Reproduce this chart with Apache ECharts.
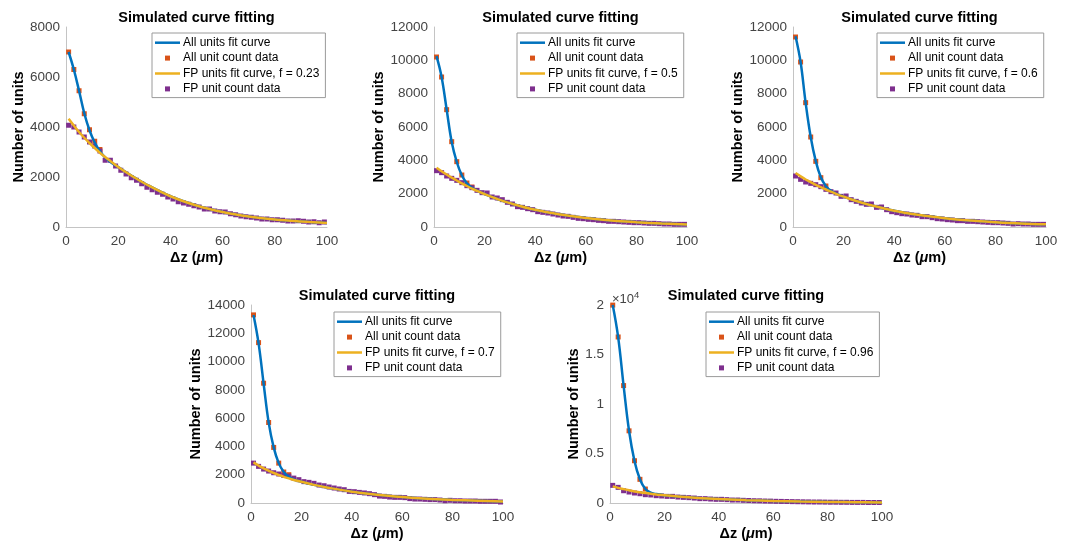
<!DOCTYPE html>
<html>
<head>
<meta charset="utf-8">
<script src="https://cdn.jsdelivr.net/npm/echarts@6/dist/echarts.min.js"></script>
<style>
  html, body { margin: 0; padding: 0; background: #fff; }
  #main { width: 1071px; height: 548px; }
</style>
</head>
<body>
<div id="main"></div>
<script>
// x positions of the count data (bin centres, um)
var countX = [1,3,5,7,9,11,13,15,17,19,21,23,25,27,29,31,33,35,37,39,41,43,45,47,49,
              51,53,55,57,59,61,63,65,67,69,71,73,75,77,79,81,83,85,87,89,91,93,95,97,99];
var fitX = [1,3,5,7,9,11,13,15,17,20,25,30,40,50,60,70,80,90,100];

// plot 1, f = 0.23
var allFit1 = [7000,6300,5450,4550,3870,3380,3030,2780,2600,2400,2060,1750,1230,860,600,420,300,220,160];
var allCount1 = [7000,6300,5450,4530,3890,3430,3100];
var fpFit1 = [4330,4060,3800,3570,3360,3160,2970,2800,2640,2400,2060,1750,1230,860,600,420,300,220,160];
var fpCount1 = [4070,4000,3800,3600,3400,3240,3040,2670,2670,2440,2270,2120,1970,1870,1730,1590,1490,1390,1310,1200,
                1120,1010,960,910,850,800,720,720,640,610,600,530,490,440,410,390,360,320,320,290,
                290,270,240,240,250,230,200,210,170,200];

// plot 2, f = 0.5
var allFit2 = [10250,9000,7050,5100,3900,3100,2620,2350,2180,1970,1680,1430,1030,750,540,390,290,210,150];
var allCount2 = [10200,9000,7040,5120,3920,3120,2640,2400];
var fpFit2 = [3560,3350,3150,2960,2790,2620,2460,2300,2170,1970,1680,1430,1030,750,540,390,290,210,150];
var fpCount2 = [3380,3260,3060,2920,2800,2660,2480,2360,2200,2060,2040,1800,1740,1640,1480,1380,1220,1180,1100,1040,
                920,880,840,780,720,660,640,580,520,500,460,440,400,380,340,340,320,300,280,260,
                260,240,220,220,200,180,180,160,160,160];

// plot 3, f = 0.6
var allFit3 = [11450,9900,7450,5400,3950,2980,2450,2170,2000,1820,1560,1340,980,720,530,390,290,210,160];
var allCount3 = [11400,9900,7460,5400,3940,2960,2460];
var fpFit3 = [3240,3040,2850,2690,2530,2390,2250,2120,1990,1820,1560,1340,980,720,530,390,290,210,160];
var fpCount3 = [3060,2860,2700,2620,2540,2420,2260,2120,2040,1840,1860,1640,1540,1440,1360,1380,1180,1200,1040,920,
                860,800,780,720,700,620,620,560,500,480,440,420,380,380,340,340,320,300,280,260,
                260,240,220,180,200,180,180,160,160,160];

// plot 4, f = 0.7
var allFit4 = [13300,11300,8450,5700,3930,2820,2200,1850,1660,1500,1280,1100,800,580,420,300,220,160,110];
var allCount4 = [13300,11340,8470,5690,3930,2820,2190,2000];
var fpFit4 = [2870,2650,2450,2280,2120,1980,1850,1740,1630,1500,1280,1100,800,580,420,300,220,160,110];
var fpCount4 = [2820,2590,2400,2260,2140,2050,1950,1900,1760,1650,1510,1460,1390,1270,1220,1130,1060,990,940,820,
                800,750,710,660,590,490,470,420,400,400,380,310,280,280,260,240,240,210,160,190,
                160,160,140,140,140,120,120,120,120,70];

// plot 5, f = 0.96
var allFit5 = [20000,16750,11850,7300,4250,2400,1420,1050,900,780,660,560,400,290,210,150,110,80,60];
var allCount5 = [19990,16770,11860,7290,4270,2390,1410];
var fpFit5 = [1680,1530,1400,1280,1170,1080,1000,930,870,780,660,560,400,290,210,150,110,80,60];
var fpCount5 = [1780,1580,1240,1110,1010,940,840,810,740,710,670,670,600,570,540,500,440,440,400,370,
                370,340,300,300,270,250,230,220,200,190,170,160,150,140,130,120,110,100,100,90,
                80,80,70,70,60,60,60,50,50,50];

var fValues = ['0.23', '0.5', '0.6', '0.7', '0.96'];
var yMax = [8000, 12000, 12000, 14000, 20000];
var yStep = [2000, 2000, 2000, 2000, 5000];

var allFit = [allFit1, allFit2, allFit3, allFit4, allFit5];
var allCount = [allCount1, allCount2, allCount3, allCount4, allCount5];
var fpFit = [fpFit1, fpFit2, fpFit3, fpFit4, fpFit5];
var fpCount = [fpCount1, fpCount2, fpCount3, fpCount4, fpCount5];

// panel placement (plot area in px)
var boxes = [
    {left: 66,  top: 27,  width: 261, height: 200, legendLeft: 152, legendTop: 33,  nameGap: 37},
    {left: 434, top: 27,  width: 253, height: 200, legendLeft: 517, legendTop: 33,  nameGap: 45},
    {left: 793, top: 27,  width: 253, height: 200, legendLeft: 877, legendTop: 33,  nameGap: 43},
    {left: 251, top: 305, width: 252, height: 198, legendLeft: 334, legendTop: 312, nameGap: 45},
    {left: 610, top: 305, width: 272, height: 198, legendLeft: 706, legendTop: 312, nameGap: 29}
];

var FONT = 'Liberation Sans, Arial, sans-serif';
var BLUE = '#0072BD', ORANGE = '#D95319', YELLOW = '#EDB120', PURPLE = '#7E2F8E';
var LINE_ICON = 'path://M0,0H25V2.5H0Z';
var DOT_ICON = 'path://M0,0H10V10H0Z';

function pairs(xs, ys) {
    var out = [];
    for (var i = 0; i < ys.length; i++) out.push([xs[i], ys[i]]);
    return out;
}

var myChart = echarts.init(document.getElementById('main'));

var option = {
    backgroundColor: '#fff',
    animation: false,
    textStyle: { fontFamily: FONT },
    title: [], grid: [], xAxis: [], yAxis: [], legend: [], series: []
};

boxes.forEach(function (b, i) {
    var fpName = 'FP units fit curve, f = ' + fValues[i];

    option.title.push({
        text: 'Simulated curve fitting',
        left: b.left + b.width / 2,
        top: b.top - 17,
        textAlign: 'center',
        padding: 0,
        textStyle: { fontFamily: FONT, fontSize: 14.5, fontWeight: 'bold', color: '#000' }
    });

    option.grid.push({ left: b.left, top: b.top, width: b.width, height: b.height, containLabel: false });

    option.xAxis.push({
        type: 'value', gridIndex: i, min: 0, max: 100, interval: 20,
        name: 'Δz ({it|μ}m)', nameLocation: 'middle', nameGap: 23,
        nameTextStyle: {
            fontFamily: FONT, fontSize: 14.5, fontWeight: 'bold', color: '#000',
            rich: { it: { fontFamily: FONT, fontSize: 14.5, fontStyle: 'italic', fontWeight: 'bold', color: '#000' } }
        },
        axisLine: { lineStyle: { color: '#c4c4c4', width: 1 } },
        axisTick: { show: false },
        axisLabel: { fontFamily: FONT, fontSize: 13.5, color: '#444', margin: 7 },
        splitLine: { show: false }
    });

    option.yAxis.push({
        type: 'value', gridIndex: i, min: 0, max: yMax[i], interval: yStep[i],
        name: 'Number of units', nameLocation: 'middle', nameGap: b.nameGap, nameRotate: 90,
        nameTextStyle: { fontFamily: FONT, fontSize: 14.5, fontWeight: 'bold', color: '#000' },
        axisLine: { show: true, lineStyle: { color: '#c4c4c4', width: 1 } },
        axisTick: { show: false },
        axisLabel: {
            fontFamily: FONT, fontSize: 13.5, color: '#444', margin: 6,
            formatter: function (v) { return i === 4 ? String(v / 10000) : String(v); }
        },
        splitLine: { show: false }
    });

    option.legend.push({
        orient: 'vertical', left: b.legendLeft, top: b.legendTop,
        itemWidth: 25, itemHeight: 5, itemGap: 2,
        padding: [3, 6, 2, 3],
        borderColor: '#9a9a9a', borderWidth: 1, backgroundColor: '#fff',
        selectedMode: false,
        textStyle: { fontFamily: FONT, fontSize: 12, color: '#000', lineHeight: 13.4, padding: [0, 0, 0, -2] },
        data: [
            { name: 'All units fit curve', icon: LINE_ICON },
            { name: 'All unit count data', icon: DOT_ICON },
            { name: fpName, icon: LINE_ICON },
            { name: 'FP unit count data', icon: DOT_ICON }
        ]
    });

    option.series.push({
        name: 'All units fit curve', type: 'line', xAxisIndex: i, yAxisIndex: i,
        data: pairs(fitX, allFit[i]), smooth: 0.4, symbol: 'none',
        lineStyle: { color: BLUE, width: 2.5 }, itemStyle: { color: BLUE }
    });
    option.series.push({
        name: 'All unit count data', type: 'scatter', xAxisIndex: i, yAxisIndex: i,
        data: pairs(countX, allCount[i]), symbol: 'rect', symbolSize: 5,
        itemStyle: { color: ORANGE, opacity: 1 }
    });
    option.series.push({
        name: fpName, type: 'line', xAxisIndex: i, yAxisIndex: i,
        data: pairs(fitX, fpFit[i]), smooth: 0.4, symbol: 'none',
        lineStyle: { color: YELLOW, width: 2.5 }, itemStyle: { color: YELLOW }
    });
    option.series.push({
        name: 'FP unit count data', type: 'scatter', xAxisIndex: i, yAxisIndex: i,
        data: pairs(countX, fpCount[i]), symbol: 'rect', symbolSize: 5,
        itemStyle: { color: PURPLE, opacity: 1 }
    });
});

// exponent label for the last panel
option.title.push({
    text: '{a|×10}{b|4}',
    left: 612, top: 290, padding: 0,
    textStyle: {
        rich: {
            a: { fontFamily: FONT, fontSize: 13, fontWeight: 'normal', color: '#444', verticalAlign: 'bottom' },
            b: { fontFamily: FONT, fontSize: 9.5, fontWeight: 'normal', color: '#444', verticalAlign: 'top', padding: [0, 0, 6, 0] }
        }
    }
});

myChart.setOption(option);
</script>
</body>
</html>
